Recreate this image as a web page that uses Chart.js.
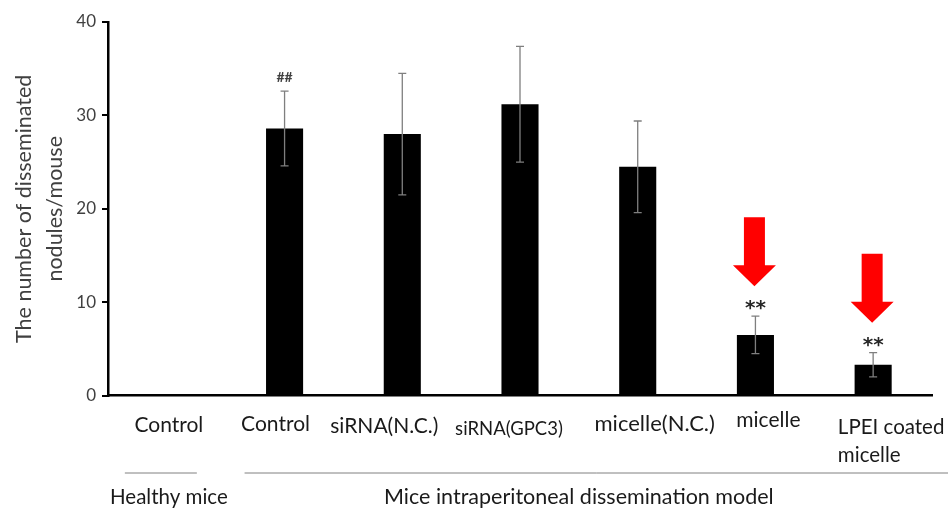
<!DOCTYPE html>
<html>
<head>
<meta charset="utf-8">
<script src="https://cdn.jsdelivr.net/npm/chart.js@4.4.1/dist/chart.umd.min.js"></script>
<style>
  html, body { margin: 0; padding: 0; background: #fff; }
  #wrap { width: 948px; height: 509px; position: relative; }
</style>
</head>
<body>
<div id="wrap"><canvas id="chart"></canvas></div>
<script>
const categories = ['Control', 'Control', 'siRNA(N.C.)', 'siRNA(GPC3)', 'micelle(N.C.)', 'micelle', ['LPEI coated', 'micelle']];
const means = [0, 28.6, 28.0, 31.2, 24.5, 6.5, 3.3];
const errors = [0, 4.0, 6.5, 6.2, 4.9, 2.0, 1.3];
const marks = ['', '##', '', '', '', '**', '**'];
const yTicks = [0, 10, 20, 30, 40];

// red arrows pointing at the two micelle groups (value units)
const arrowIndex = [5, 6];
const arrowTop = [19.1, 15.2];
const arrowTip = [11.7, 7.8];

const groups = ['Healthy mice', 'Mice intraperitoneal dissemination model'];

// the labels in the original are loose text boxes, so each gets its own nudge/size
const labelSize = [21, 21, 21, 18.5, 22, 21, 20.5];
const labelDx = [2, -9, -18, -11, 17, 13, 18];
const labelY = [425, 424, 426, 429, 424, 420, 427];

const FONT = 'Lato, "Open Sans", sans-serif';

const extras = {
  id: 'extras',
  afterDatasetsDraw(chart) {
    const { ctx, scales: { x, y } } = chart;
    ctx.save();

    // error bars
    ctx.strokeStyle = '#7f7f7f';
    ctx.lineWidth = 1.3;
    means.forEach((m, i) => {
      if (!errors[i]) return;
      const px = x.getPixelForValue(i);
      const top = y.getPixelForValue(m + errors[i]);
      const bot = y.getPixelForValue(m - errors[i]);
      ctx.beginPath();
      ctx.moveTo(px, top); ctx.lineTo(px, bot);
      ctx.moveTo(px - 4, top); ctx.lineTo(px + 4, top);
      ctx.moveTo(px - 4, bot); ctx.lineTo(px + 4, bot);
      ctx.stroke();
    });

    // significance marks
    ctx.textAlign = 'center';
    marks.forEach((t, i) => {
      if (!t) return;
      const px = x.getPixelForValue(i);
      const top = y.getPixelForValue(means[i] + errors[i]);
      if (t === '##') {
        ctx.textBaseline = 'middle';
        ctx.fillStyle = '#404040';
        ctx.font = 'bold 14px ' + FONT;
        ctx.fillText('##', px, top - 14);
      } else {
        ctx.textBaseline = 'alphabetic';
        ctx.fillStyle = '#262626';
        ctx.font = 'bold 20px "DejaVu Sans"';
        ctx.fillText('**', px, top - 2);
      }
    });

    // arrows
    ctx.fillStyle = '#ff0000';
    arrowIndex.forEach((idx, k) => {
      const px = x.getPixelForValue(idx) - 1;
      const t = y.getPixelForValue(arrowTop[k]);
      const tip = y.getPixelForValue(arrowTip[k]);
      const headStart = tip - 21;
      ctx.beginPath();
      ctx.moveTo(px - 10.5, t);
      ctx.lineTo(px + 10.5, t);
      ctx.lineTo(px + 10.5, headStart);
      ctx.lineTo(px + 21.5, headStart);
      ctx.lineTo(px, tip);
      ctx.lineTo(px - 21.5, headStart);
      ctx.lineTo(px - 10.5, headStart);
      ctx.closePath();
      ctx.fill();
    });

    // category labels
    ctx.fillStyle = '#1a1a1a';
    ctx.textBaseline = 'middle';
    categories.forEach((lab, i) => {
      ctx.font = labelSize[i] + 'px ' + FONT;
      const cx = x.getPixelForValue(i) + labelDx[i];
      if (Array.isArray(lab)) {
        const w = ctx.measureText(lab[0]).width;
        ctx.textAlign = 'left';
        lab.forEach((line, j) => ctx.fillText(line, cx - w / 2, labelY[i] + j * 28));
      } else {
        ctx.textAlign = 'center';
        ctx.fillText(lab, cx, labelY[i]);
      }
    });

    // group brackets and names
    const lineY = 473;
    ctx.strokeStyle = '#808080';
    ctx.lineWidth = 1;
    const c0 = x.getPixelForValue(0);
    const c1 = x.getPixelForValue(1);
    ctx.beginPath();
    ctx.moveTo(c0 - 42, lineY); ctx.lineTo(c0 + 30, lineY);
    ctx.moveTo(c1 - 40, lineY); ctx.lineTo(chart.width, lineY);
    ctx.stroke();

    ctx.fillStyle = '#1a1a1a';
    ctx.textAlign = 'center';
    ctx.font = '20.5px ' + FONT;
    ctx.fillText(groups[0], c0 + 2, 497);
    ctx.font = '21.5px ' + FONT;
    ctx.fillText(groups[1], x.getPixelForValue(3.5), 497);

    ctx.restore();
  }
};

new Chart(document.getElementById('chart'), {
  type: 'bar',
  data: {
    labels: categories,
    datasets: [{
      data: means,
      backgroundColor: '#000000',
      borderWidth: 0,
      categoryPercentage: 1,
      barPercentage: 0.315
    }]
  },
  options: {
    responsive: true,
    maintainAspectRatio: false,
    animation: false,
    layout: { padding: { top: 22, right: 16, bottom: 0, left: 0 } },
    plugins: {
      legend: { display: false },
      tooltip: { enabled: false }
    },
    scales: {
      x: {
        grid: { display: false },
        border: { display: true, color: '#000', width: 2.5 },
        ticks: { display: false },
        afterFit(scale) { scale.height = 113.4; }
      },
      y: {
        min: 0,
        max: 40,
        afterBuildTicks(scale) { scale.ticks = yTicks.map(v => ({ value: v })); },
        grid: { drawOnChartArea: false, color: '#000', tickLength: 6, lineWidth: 2 },
        border: { display: true, color: '#000', width: 2.5 },
        ticks: {
          color: '#404040',
          font: { family: FONT, size: 17 },
          padding: 6
        },
        title: {
          display: true,
          text: ['The number of disseminated', 'nodules/mouse'],
          color: '#404040',
          font: { family: FONT, size: 21.5, lineHeight: 1.4 },
          padding: { top: 9.5, bottom: 0 }
        },
        afterFit(scale) { scale.width = 108; }
      }
    }
  },
  plugins: [extras]
});
</script>
</body>
</html>
